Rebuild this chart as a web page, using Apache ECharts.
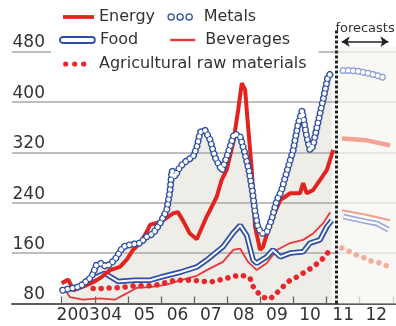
<!DOCTYPE html>
<html>
<head>
<meta charset="utf-8">
<script src="https://cdn.jsdelivr.net/npm/echarts@6/dist/echarts.min.js"></script>
<style>
  html, body { margin: 0; padding: 0; background: #fff; }
  #chart { width: 396px; height: 326px; }
</style>
</head>
<body>
<div id="chart"></div>
<script>
// Commodity price indices; x = decimal year, y = index value
const metals = [
  [2003.03,101],[2003.55,107],[2003.9,122],[2004.05,141],[2004.2,144],[2004.35,138],[2004.6,149],
  [2004.85,170],[2005.05,173],[2005.37,176],[2005.57,186],[2005.76,191],[2005.97,207],[2006.17,228],
  [2006.27,258],[2006.33,291],[2006.42,281],[2006.57,297],[2006.78,307],[2006.97,313],[2007.08,328],
  [2007.18,352],[2007.33,355],[2007.48,340],[2007.63,312],[2007.84,291],[2008.02,318],[2008.21,350],
  [2008.39,345],[2008.51,323],[2008.66,290],[2008.75,262],[2008.84,225],[2008.93,200],[2009.05,191],
  [2009.2,194],[2009.35,215],[2009.5,244],[2009.63,258],[2009.81,291],[2009.99,323],[2010.14,365],
  [2010.26,386],[2010.4,345],[2010.5,323],[2010.59,330],[2010.71,360],[2010.89,402],[2011.04,440],
  [2011.16,447]
];
const metalsForecast = [[2011.5,450],[2011.71,450],[2011.91,449],[2012.11,447],[2012.31,445],[2012.52,442],[2012.82,437]];

const energy = [
  [2003.0,112],[2003.2,118],[2003.35,101],[2003.7,108],[2004.0,115],[2004.2,122],[2004.46,133],
  [2004.76,138],[2004.97,150],[2005.15,165],[2005.37,176],[2005.58,195],[2005.67,205],[2005.88,208],
  [2006.06,212],[2006.36,223],[2006.51,225],[2006.66,212],[2006.87,191],[2007.08,182],[2007.38,218],
  [2007.68,249],[2007.83,276],[2007.98,292],[2008.18,335],[2008.33,387],[2008.44,430],[2008.54,419],
  [2008.63,361],[2008.74,292],[2008.84,202],[2008.99,165],[2009.08,170],[2009.3,208],[2009.6,244],
  [2009.9,255],[2010.2,255],[2010.29,271],[2010.4,255],[2010.59,260],[2010.8,276],[2011.01,292],
  [2011.2,324]
];
const energyForecast = [[2011.46,342],[2012.21,339],[2012.92,331]];

const food = [
  [2003.03,101],[2003.55,107],[2003.95,120],[2004.3,128],[2004.7,115],[2005.2,117],[2005.67,117],
  [2006.0,122],[2006.6,130],[2007.08,138],[2007.38,149],[2007.87,170],[2008.18,192],[2008.39,204],
  [2008.59,188],[2008.78,149],[2008.89,144],[2009.19,154],[2009.38,165],[2009.6,154],[2009.9,160],
  [2010.29,162],[2010.5,176],[2010.8,181],[2011.01,202],[2011.16,212]
];
const foodForecast = [[2011.51,218],[2012.21,210],[2012.52,207],[2012.87,197]];

const beverages = [
  [2003.05,106],[2003.25,90],[2003.64,86],[2004.16,88],[2004.6,86],[2004.96,96],[2005.27,105],
  [2005.67,106],[2006.17,110],[2006.66,118],[2007.08,124],[2007.38,133],[2007.87,146],[2008.18,165],
  [2008.39,167],[2008.63,146],[2008.89,133],[2009.19,144],[2009.5,165],[2009.9,176],[2010.29,181],
  [2010.59,191],[2010.89,207],[2011.11,225]
];
const beveragesForecast = [[2011.46,228],[2012.2,221],[2012.92,212]];

const agriculture = [
  [2003.95,104],[2004.25,104],[2004.52,105],[2004.76,105],[2005.21,108],[2005.76,108],[2006.42,117],
  [2006.93,117],[2007.5,114],[2007.98,120],[2008.18,123],[2008.44,125],[2008.69,120],[2008.78,107],
  [2008.93,97],[2009.08,90],[2009.29,87],[2009.5,97],[2009.69,107],[2009.9,117],[2010.1,122],
  [2010.35,130],[2010.59,138],[2010.85,149],[2011.11,165]
];
const agricultureForecast = [[2011.46,168],[2011.71,162],[2011.91,157],[2012.16,152],[2012.41,146],[2012.67,144],[2012.87,138]];

const yTicks = [80, 160, 240, 320, 400, 480];
const forecastStart = 2011.31;

const FONT = 'DejaVu Sans';
const TEXT = '#333';
const RED = '#e3231d';
const BLUE = '#2d4ea5';

function yearLabel(v) {
  const f = v - Math.floor(v);
  if (Math.abs(f - 0.5) > 0.01) return '';
  const y = Math.floor(v);
  return y === 2003 ? '2003' : String(y).slice(2);
}

const dotLine = (color, width, gap) => ({ color, width, type: [0.01, gap], cap: 'round' });

function lineSeries(name, data, lineStyle, z) {
  return {
    name, type: 'line', data, xAxisIndex: 1, yAxisIndex: 1, z,
    symbol: 'none', silent: true, lineStyle
  };
}

const chart = echarts.init(document.getElementById('chart'), null, { renderer: 'canvas' });
chart.setOption({
  animation: false,
  textStyle: { fontFamily: FONT },
  grid: [
    { left: 12, right: 0, top: 1.1, bottom: 22.5, outerBoundsMode: 'none', containLabel: false },
    { left: 61.7, right: 3.2, top: 1.1, bottom: 22.5, outerBoundsMode: 'none', containLabel: false }
  ],
  xAxis: [
    { gridIndex: 0, type: 'value', position: 'bottom', min: 2001.5, max: 2013.1, z: 2,
      axisLine: { show: true, lineStyle: { color: '#5c5c5c', width: 2 } },
      axisTick: { show: false }, axisLabel: { show: false }, splitLine: { show: false } },
    { gridIndex: 1, type: 'value', position: 'bottom', min: 2003, max: 2013, interval: 1, z: 2,
      axisLine: { show: false },
      axisTick: { show: true, inside: true, length: 7, lineStyle: { color: '#666', width: 1.3 } },
      axisLabel: { show: false }, splitLine: { show: false } },
    { gridIndex: 1, type: 'value', position: 'bottom', offset: 0, min: 2003, max: 2013, interval: 0.5,
      axisLine: { show: false }, axisTick: { show: false }, splitLine: { show: false },
      axisLabel: { formatter: yearLabel, margin: 4, fontSize: 17, color: TEXT, fontFamily: FONT } }
  ],
  yAxis: [
    { gridIndex: 0, type: 'value', min: 80, max: 560, interval: 80, z: 2,
      axisLine: { show: false }, axisTick: { show: false },
      axisLabel: { inside: true, align: 'right', verticalAlign: 'bottom', margin: 33,
        showMaxLabel: false, fontSize: 17, color: TEXT, fontFamily: FONT,
        formatter: v => (yTicks.includes(v) ? String(v) : '') },
      splitLine: { show: true, showMinLine: false, showMaxLine: false,
        lineStyle: { color: '#a8a8a8', width: 1.5 } } },
    { gridIndex: 1, type: 'value', min: 80, max: 560, interval: 80, show: false }
  ],
  legend: [
    { left: 63, top: 9, padding: 0, itemWidth: 31, itemHeight: 10, itemGap: 12, z: 10,
      selectedMode: false, textStyle: { fontSize: 16, color: TEXT, fontFamily: FONT },
      data: [
        { name: 'Energy', icon: 'path://M0,0M31,10M0,3.1H31V6.9H0Z',
          itemStyle: { color: RED, borderWidth: 0 } },
        { name: 'Metals',
          icon: 'path://M0,0M31,10M0.4,5A3.1,3.1 0 1 0 6.6,5A3.1,3.1 0 1 0 0.4,5ZM9.4,5A3.1,3.1 0 1 0 15.6,5A3.1,3.1 0 1 0 9.4,5ZM18.4,5A3.1,3.1 0 1 0 24.6,5A3.1,3.1 0 1 0 18.4,5Z',
          itemStyle: { color: '#fff', borderColor: BLUE, borderWidth: 1.3 } }
      ] },
    { left: 59, top: 32, padding: 0, itemWidth: 35, itemHeight: 10, itemGap: 27, z: 10,
      selectedMode: false, textStyle: { fontSize: 16, color: TEXT, fontFamily: FONT },
      data: [
        { name: 'Food',
          icon: 'path://M0,0M35,10M3,2H32A3,3 0 0 1 32,8H3A3,3 0 0 1 3,2Z',
          itemStyle: { color: '#fff', borderColor: BLUE, borderWidth: 1.8 } },
        { name: 'Beverages', icon: 'path://M0,0M35,10M5,3.8H30V6.2H5Z',
          itemStyle: { color: '#e8383d', borderWidth: 0 } }
      ] },
    { left: 51, top: 50, padding: [6, 12, 4, 12], backgroundColor: '#fff',
      itemWidth: 31, itemHeight: 10, z: 10,
      selectedMode: false, textStyle: { fontSize: 16, color: TEXT, fontFamily: FONT },
      data: [
        { name: 'Agricultural raw materials',
          icon: 'path://M0,0M31,10M0.1,5A2.6,2.6 0 1 0 5.3,5A2.6,2.6 0 1 0 0.1,5ZM9.1,5A2.6,2.6 0 1 0 14.3,5A2.6,2.6 0 1 0 9.1,5ZM18.1,5A2.6,2.6 0 1 0 23.3,5A2.6,2.6 0 1 0 18.1,5Z',
          itemStyle: { color: '#e8262c', borderWidth: 0 } }
      ] }
  ],
  series: [
    // shaded region beneath the metals index
    { name: 'Metals area', type: 'line', data: metals, xAxisIndex: 1, yAxisIndex: 1, z: 1,
      symbol: 'none', silent: true, lineStyle: { width: 0 },
      areaStyle: { color: '#eeede7', opacity: 1 } },
    // forecast panel, divider and arrow
    { name: 'Forecast frame', type: 'line', data: [], xAxisIndex: 0, yAxisIndex: 0, silent: true,
      markArea: { silent: true, z: 3,
        itemStyle: { color: 'rgba(246,245,241,0.72)', borderWidth: 0 },
        data: [[{ coord: [forecastStart + 0.05, 80] }, { coord: [2013.1, 487] }]] },
      markLine: { silent: true, z: 8, symbol: 'none', animation: false,
        data: [
          [ { coord: [forecastStart, 80], lineStyle: { color: '#222', width: 3, type: [3, 2] }, label: { show: false } },
            { coord: [forecastStart, 514] } ],
          [ { coord: [2011.46, 495.6], symbol: 'arrow', symbolSize: 8,
              lineStyle: { color: '#222', width: 1.5, type: 'solid' },
              label: { show: true, position: 'insideMiddleTop', distance: 7, formatter: 'forecasts',
                fontSize: 13, color: TEXT, fontFamily: FONT } },
            { coord: [2012.87, 495.6], symbol: 'arrow', symbolSize: 8 } ]
        ] } },

    lineSeries('Beverages', beverages, { color: '#e8383d', width: 1.8 }, 4),
    lineSeries('Food', food, { color: BLUE, width: 5.5 }, 4),
    lineSeries('Food core', food, { color: '#fff', width: 2 }, 4),
    lineSeries('Agricultural raw materials', agriculture, dotLine('#e8262c', 5.5, 8), 4),
    lineSeries('Energy', energy, { color: RED, width: 4 }, 4),
    lineSeries('Metals', metals, dotLine(BLUE, 7, 5), 5),
    lineSeries('Metals core', metals, dotLine('#fff', 4.4, 5), 5),

    lineSeries('Beverages forecast', beveragesForecast, { color: '#f2a08e', width: 2 }, 4),
    lineSeries('Food forecast', foodForecast, { color: '#9aa8dc', width: 5.5 }, 4),
    lineSeries('Food forecast core', foodForecast, { color: '#fff', width: 2.2 }, 4),
    lineSeries('Agricultural forecast', agricultureForecast, dotLine('#f4ad9b', 5.5, 8), 4),
    lineSeries('Energy forecast', energyForecast, { color: '#f2a593', width: 4.5 }, 4),
    lineSeries('Metals forecast', metalsForecast, dotLine('#8e9fd4', 7, 5), 5),
    lineSeries('Metals forecast core', metalsForecast, dotLine('#fff', 4.4, 5), 5)
  ]
});
</script>
</body>
</html>
